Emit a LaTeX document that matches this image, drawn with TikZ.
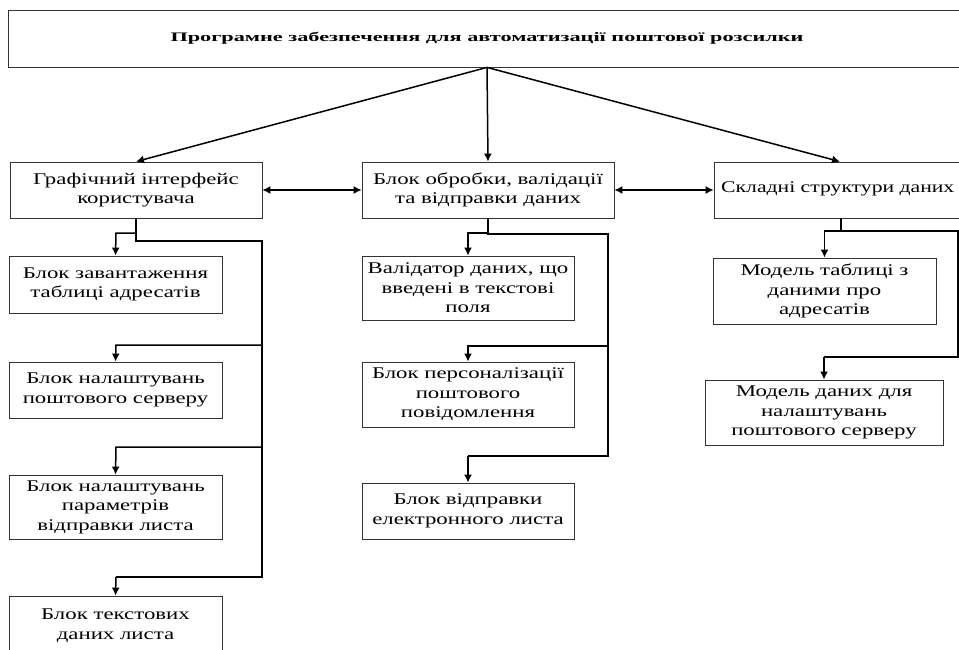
\documentclass[tikz,border=0pt]{standalone}
\usepackage{fontspec}
\setmainfont[FakeStretch=1.4]{Liberation Serif}
\newfontfamily\titlefont[FakeStretch=1.25]{Liberation Serif}
\usetikzlibrary{arrows.meta}
\begin{document}
\begin{tikzpicture}[x=1pt,y=-1pt,
  box/.style={draw=black!80, line width=0.8pt, fill=white, rectangle, align=center, inner sep=0pt,
    font=\fontsize{16.3}{19.5}\selectfont},
  conn/.style={line width=1.5pt, -{Latex[length=8pt,width=8pt]}},
  bus/.style={line width=1.8pt},
  dbl/.style={line width=1.3pt, {Latex[length=8pt,width=8pt]}-{Latex[length=8pt,width=8pt]}}]
\useasboundingbox (0,0) rectangle (959,650);
\begin{scope}
\clip (0,0) rectangle (959,650);
\node[box, minimum width=958, minimum height=57, font=\titlefont\bfseries\fontsize{13}{15}\selectfont] (top) at (487,38.5) {\scalebox{1.37}[1]{Програмне забезпечення для автоматизації поштової розсилки}};
\node[box, minimum width=252, minimum height=56] (gui) at (136,190) {Графічний інтерфейс\\користувача};
\node[box, minimum width=252, minimum height=56] (mid) at (488,190) {Блок обробки, валідації\\та відправки даних};
\node[box, minimum width=252, minimum height=56] (rgt) at (840,190) {};
\node[font=\fontsize{16.3}{19.5}\selectfont, inner sep=0pt, anchor=west] (rgtt) at (721,189) {\scalebox{0.95}[1]{Складні структури даних}};
\node[box, minimum width=213, minimum height=57] (g1) at (115.5,284.5) {Блок завантаження\\таблиці адресатів};
\node[box, minimum width=213, minimum height=56] (g2) at (115.5,390) {Блок налаштувань\\поштового серверу};
\node[box, minimum width=213, minimum height=64] (g3) at (115.5,507) {Блок налаштувань\\параметрів\\відправки листа};
\node[box, minimum width=213, minimum height=59] (g4) at (115.5,625.5) {Блок текстових\\даних листа};
\node[box, minimum width=212, minimum height=64] (m1) at (468,288) {Валідатор даних, що\\введені в текстові\\поля};
\node[box, minimum width=212, minimum height=65] (m2) at (468,394.5) {Блок персоналізації\\поштового\\повідомлення};
\node[box, minimum width=212, minimum height=56] (m3) at (468,511) {Блок відправки\\електронного листа};
\node[box, minimum width=223, minimum height=66] (r1) at (824.5,291) {Модель таблиці з\\даними про\\адресатів};
\node[box, minimum width=238, minimum height=65] (r2) at (824,412.5) {Модель даних для\\налаштувань\\поштового серверу};

% top level arrows
\draw[conn] (top.south) -- (gui.north);
\draw[conn] (top.south) -- (mid.north);
\draw[conn] (top.south) -- (rgt.north);
\draw[dbl] (gui.east) -- (mid.west);
\draw[dbl] (mid.east) -- (rgt.west);

% GUI bus
\coordinate (ga) at (136,241);
\coordinate (gb) at (262,241);
\coordinate (gc) at (262,577);
\draw[bus] (gui.south) -- (ga) -- (gb) -- (gc) -- (116,577);
\draw[conn] (136,233) -- (116,233) -- (g1.north);
\draw[conn] (262,345) -- (116,345) -- (g2.north);
\draw[conn] (262,447) -- (116,447) -- (g3.north);
\draw[conn] (116,577) -- (g4.north);

% middle bus
\coordinate (ma) at (488,234);
\coordinate (mb) at (608,234);
\coordinate (mc) at (608,456);
\draw[bus] (mid.south) -- (ma) -- (mb) -- (mc) -- (468,456);
\draw[conn] (488,233) -- (468,233) -- (m1.north);
\draw[conn] (608,346) -- (468,346) -- (m2.north);
\draw[conn] (468,456) -- (m3.north);

% right bus
\coordinate (ra) at (841,231);
\coordinate (rb) at (958,231);
\coordinate (rc) at (958,357);
\draw[bus] (841,218) -- (ra) -- (rb) -- (rc) -- (824,357);
\draw[conn] (841,231) -- (824.5,231) -- (r1.north);
\draw[conn] (824,357) -- (r2.north);
\end{scope}
\end{tikzpicture}
\end{document}
